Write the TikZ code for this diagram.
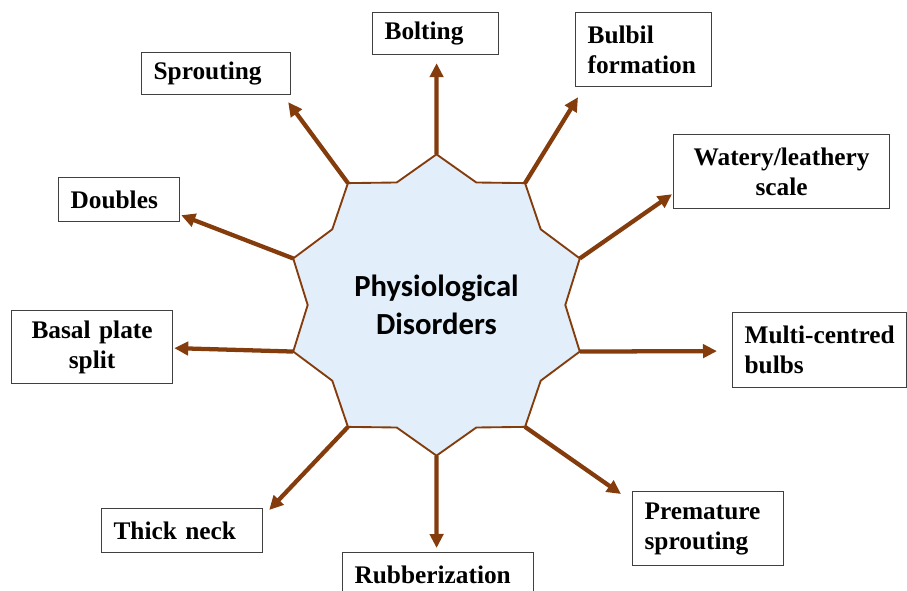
\documentclass[tikz,border=0pt]{standalone}
\usepackage{fontspec}
\newfontfamily\boxfont{Liberation Serif}
\newfontfamily\hubfont{Carlito}
\usepackage{tikz}
\usetikzlibrary{shapes.geometric}
\usetikzlibrary{arrows.meta}
\definecolor{rust}{RGB}{132,60,12}
\definecolor{paleblue}{RGB}{226,238,250}
\definecolor{boxgray}{RGB}{64,64,64}

\begin{document}
\begin{tikzpicture}[x=0.75pt,y=-0.75pt,
    box/.style={draw=boxgray,line width=0.9pt,anchor=north west,inner xsep=9pt,inner ysep=0pt,align=left,
      font={\boxfont\bfseries\fontsize{19}{22.5}\selectfont\hyphenpenalty=10000\exhyphenpenalty=10000}},
    hub/.style={star,star points=10,star point ratio=1.17,minimum size=226pt,inner sep=0pt,outer sep=0pt,
      draw=rust,line width=1.4pt,fill=paleblue,align=center,font={\hubfont\bfseries\fontsize{23}{28.5}\selectfont}},
    arr/.style={draw=rust,line width=3.2pt,-{Triangle[length=10.5pt,width=10pt]}}]
    \useasboundingbox (0,0) rectangle (907,591);

    \node[hub] (hub) at (436.5,305) {Physiological\\Disorders};

    \node[box,text width=76.5pt,minimum height=31.5pt] (bolting) at (372,12) {Bolting};
    \node[box,text width=84pt,minimum height=55.5pt] (bulbil) at (575,12) {Bulbil\\formation};
    \node[box,align=center,text width=144pt,minimum height=55.5pt] (watery) at (673,134) {Watery/leathery\\scale};
    \node[box,text width=112.5pt,minimum height=56.25pt] (multi) at (732,312) {Multi-centred\\bulbs};
    \node[box,text width=95.25pt,minimum height=55.5pt] (premature) at (632,491) {Premature\\sprouting};
    \node[box,text width=125.25pt,minimum height=33pt] (rubber) at (342,552) {Rubberization};
    \node[box,text width=102.75pt,minimum height=33pt] (thick) at (101,508) {Thick neck};
    \node[box,align=center,text width=102.75pt,minimum height=54.75pt] (basal) at (11,310) {Basal plate\\split};
    \node[box,text width=72.75pt,minimum height=33pt] (doubles) at (58,177) {Doubles};
    \node[box,text width=93.75pt,minimum height=31.5pt] (sprouting) at (141,52) {Sprouting};

    \draw[arr] (hub.90) -- ([shift={(1,8)}]bolting.south);
    \draw[arr] (hub.54) -- ([shift={(3,10)}]bulbil.south west);
    \draw[arr] (hub.18) -- ([shift={(-1,-15)}]watery.south west);
    \draw[arr] (hub.-18) -- ([shift={(-15,1)}]multi.west);
    \draw[arr] (hub.-54) -- ([shift={(-11,3)}]premature.north west);
    \draw[arr] (hub.-90) -- ([shift={(-1.5,-4)}]rubber.north);
    \draw[arr] (hub.234) -- ([shift={(6,2)}]thick.north east);
    \draw[arr] (hub.198) -- ([shift={(1,1)}]basal.east);
    \draw[arr] (hub.162) -- ([shift={(1,-7)}]doubles.south east);
    \draw[arr] (hub.126) -- ([shift={(-3,7)}]sprouting.south east);
\end{tikzpicture}
\end{document}
